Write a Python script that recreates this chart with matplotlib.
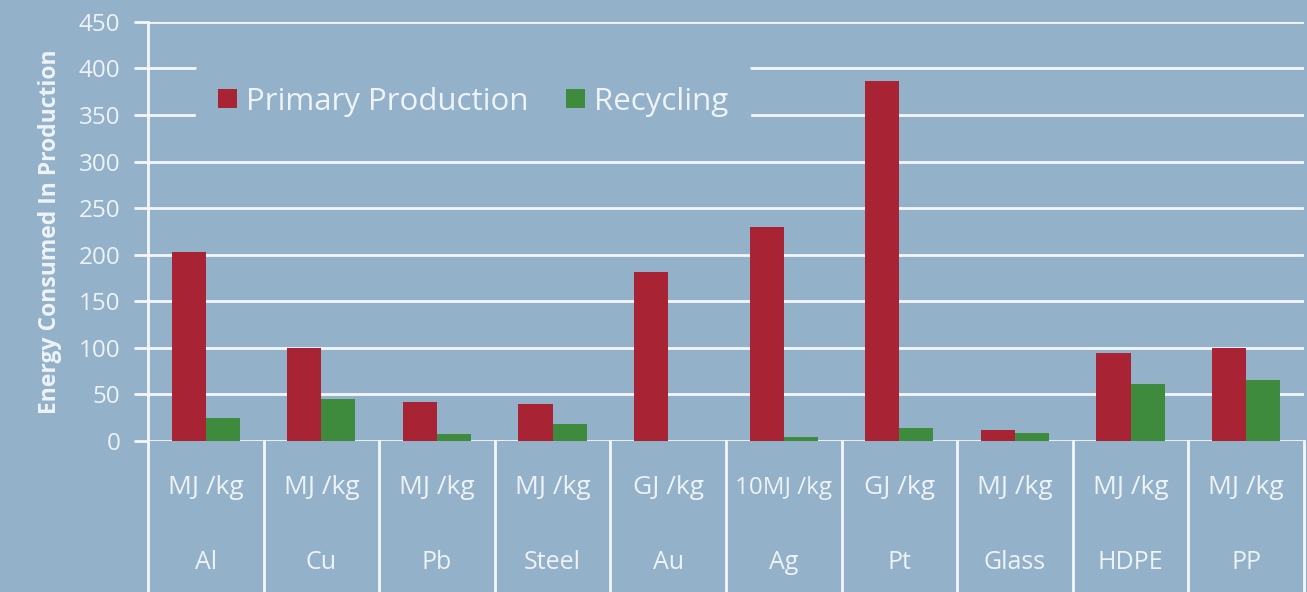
# Energy consumed in primary production vs recycling, grouped bars
import numpy as np
import matplotlib.pyplot as plt

# Data
materials = ["Al", "Cu", "Pb", "Steel", "Au", "Ag", "Pt", "Glass", "HDPE", "PP"]
units = ["MJ /kg", "MJ /kg", "MJ /kg", "MJ /kg", "GJ /kg", "10MJ /kg", "GJ /kg", "MJ /kg", "MJ /kg", "MJ /kg"]
primary = [203, 100, 42, 40, 182, 230, 387, 12, 95, 100]
recycling = [25, 45, 8, 18, 0, 4, 14, 9, 61, 66]
y_ticks = [0, 50, 100, 150, 200, 250, 300, 350, 400, 450]

BG = "#93b1c8"
RED = "#a82334"
GREEN = "#3f8b3d"
TXT = "#eef3f7"
LINE = "#f4f7fa"

plt.rcParams["font.family"] = ["Open Sans", "DejaVu Sans"]

fig = plt.figure(figsize=(13.07, 5.92), dpi=100, facecolor=BG)
ax = fig.add_axes([0.1132, 0.255, 0.8845, 0.708], facecolor=BG)

x = np.arange(len(materials))
w = 0.295
ax.bar(x - w / 2, primary, w, color=RED, label="Primary Production", zorder=3)
ax.bar(x + w / 2, recycling, w, color=GREEN, label="Recycling", zorder=3)

ax.set_xlim(-0.5, len(materials) - 0.5)
ax.set_ylim(0, 450)
ax.set_yticks(y_ticks)
ax.tick_params(axis="y", length=10, width=2, color=LINE, labelcolor=TXT, labelsize=17.5, pad=10)
ax.tick_params(axis="x", length=0, labelbottom=False)
ax.yaxis.grid(True, color=LINE, linewidth=2, zorder=1)
ax.set_axisbelow(True)
for s in ["top", "right", "bottom"]:
    ax.spines[s].set_visible(False)
ax.spines["left"].set_color(LINE)
ax.spines["left"].set_linewidth(2)
ax.spines["left"].set_bounds(0, 450)

ax.set_ylabel("Energy Consumed In Production", color=TXT, fontsize=16.5,
              fontweight="bold", labelpad=12)

# two-level category labels below the axis with separators
trans = ax.get_xaxis_transform()
for i in range(len(materials) + 1):
    ax.plot([i - 0.5, i - 0.5], [0, -0.36], transform=trans, color=LINE,
            linewidth=2, clip_on=False)
for i, (u, m) in enumerate(zip(units, materials)):
    ax.text(i, -0.112, u, transform=trans, ha="center", va="center",
            color=TXT, fontsize=19 if i != 5 else 17.5, clip_on=False)
    ax.text(i, -0.29, m, transform=trans, ha="center", va="center",
            color=TXT, fontsize=18, clip_on=False)

leg = ax.legend(loc="center left", bbox_to_anchor=(0.028, 0.81), ncol=2,
                frameon=True, facecolor=BG, edgecolor=BG, framealpha=1,
                fontsize=22.5, handlelength=0.6, handleheight=0.6,
                handletextpad=0.3, columnspacing=1.2, borderpad=0.7)
for t in leg.get_texts():
    t.set_color(TXT)
leg.set_zorder(5)

fig.savefig("out.png", dpi=100, facecolor=BG)
